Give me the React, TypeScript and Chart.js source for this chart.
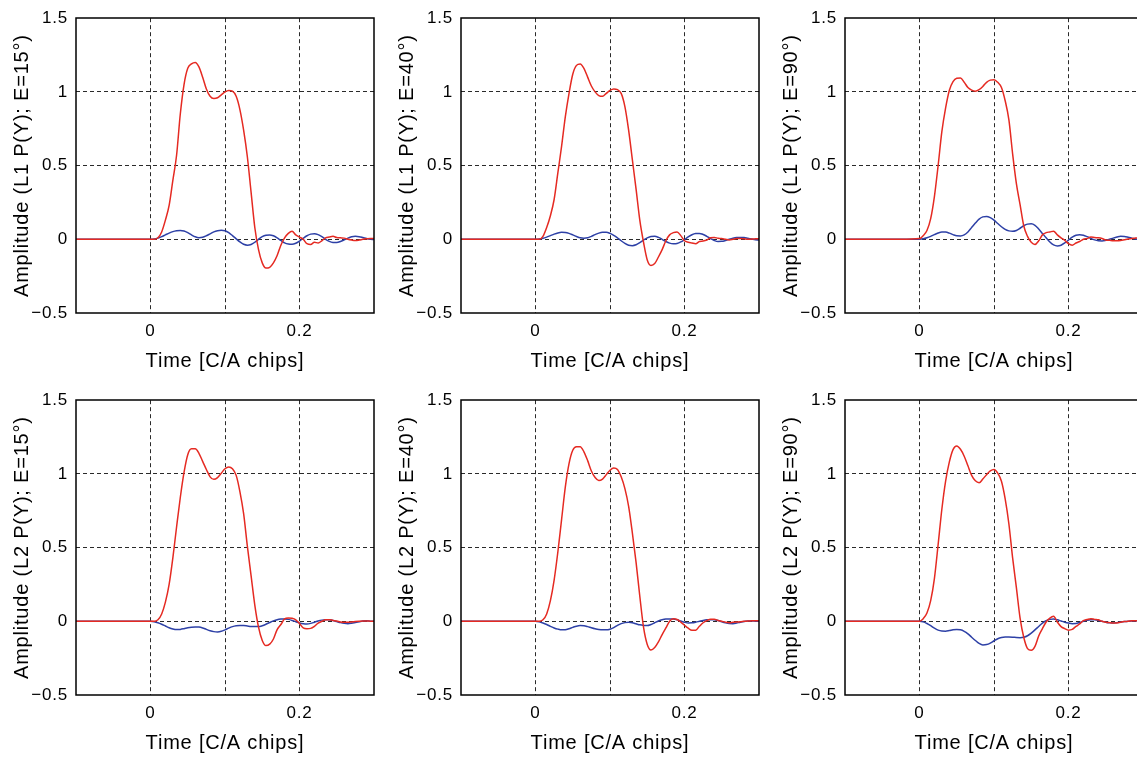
import React, { useEffect, useRef } from 'react';
import { Chart, registerables } from 'chart.js';

Chart.register(...registerables);

// ---- data ----
const TIME = [
  -0.1, -0.075, -0.05, -0.025,
  0, 0.005, 0.01, 0.015, 0.02, 0.025, 0.03, 0.035, 0.04, 0.045,
  0.05, 0.055, 0.06, 0.065, 0.07, 0.075, 0.08, 0.085, 0.09, 0.095,
  0.1, 0.105, 0.11, 0.115, 0.12, 0.125, 0.13, 0.135, 0.14, 0.145,
  0.15, 0.155, 0.16, 0.165, 0.17, 0.175, 0.18, 0.185, 0.19, 0.195,
  0.2, 0.205, 0.21, 0.215, 0.22, 0.225, 0.23, 0.235, 0.24, 0.245,
  0.25, 0.255, 0.26, 0.265, 0.27, 0.275, 0.28, 0.285, 0.29, 0.295, 0.3,
];

const X_TICK_LABELS = ['0', '0.2'];
const Y_TICK_LABELS = ['−0.5', '0', '0.5', '1', '1.5'];
const X_TITLE = 'Time [C/A chips]';
const Y_TITLES = [
  'Amplitude (L1 P(Y); E=15°)',
  'Amplitude (L1 P(Y); E=40°)',
  'Amplitude (L1 P(Y); E=90°)',
  'Amplitude (L2 P(Y); E=15°)',
  'Amplitude (L2 P(Y); E=40°)',
  'Amplitude (L2 P(Y); E=90°)',
];

const L1_E15_RED = [0, 0, 0, 0,
  0, 0.0, 0.01, 0.05, 0.13, 0.23, 0.40, 0.57, 0.85, 1.05, 1.16,
  1.19, 1.20, 1.17, 1.10, 1.02, 0.97, 0.955, 0.96, 0.98, 1.0,
  1.01, 1.005, 0.97, 0.88, 0.74, 0.56, 0.32, 0.08, -0.07, -0.16,
  -0.195, -0.19, -0.16, -0.11, -0.04, 0.01, 0.04, 0.055, 0.03, 0.015,
  0.0, -0.03, -0.035, -0.02, -0.025, -0.01, 0.01, 0.015, 0.02, 0.012,
  0.01, 0.008, 0.0, -0.005, -0.008, -0.005, 0.0, 0.003, 0.005, 0.005];
const L1_E15_BLUE = [0, 0, 0, 0,
  0, 0.002, 0.008, 0.018, 0.03, 0.042, 0.052, 0.058, 0.06, 0.056, 0.045,
  0.03, 0.017, 0.011, 0.014, 0.024, 0.037, 0.05, 0.058, 0.061, 0.058,
  0.045, 0.025, 0.003, -0.018, -0.034, -0.04, -0.035, -0.02, 0.0, 0.018,
  0.028, 0.03, 0.024, 0.01, -0.008, -0.024, -0.032, -0.034, -0.027, -0.012,
  0.007, 0.024, 0.035, 0.038, 0.032, 0.018, 0.0, -0.014, -0.021, -0.022,
  -0.015, -0.004, 0.008, 0.017, 0.02, 0.018, 0.012, 0.005, 0.0, -0.002];

const L1_E40_RED = [0, 0, 0, 0,
  0, 0.0, 0.02, 0.08, 0.16, 0.27, 0.45, 0.63, 0.83, 0.99, 1.12,
  1.18, 1.19, 1.16, 1.10, 1.04, 1.0, 0.975, 0.97, 0.99, 1.01,
  1.02, 1.015, 0.99, 0.90, 0.74, 0.54, 0.34, 0.13, -0.02, -0.14,
  -0.177, -0.165, -0.12, -0.07, -0.01, 0.03, 0.045, 0.05, 0.025, -0.01,
  -0.02, -0.025, -0.03, -0.015, -0.012, -0.005, 0.01, 0.013, 0.007, 0.005,
  0.0, -0.004, 0.0, 0.005, 0.006, 0.003, 0.0, 0.002, 0.003, 0.004];
const L1_E40_BLUE = [0, 0, 0, 0,
  0, 0.002, 0.007, 0.015, 0.025, 0.035, 0.043, 0.047, 0.046, 0.04, 0.03,
  0.019, 0.01, 0.007, 0.01, 0.02, 0.032, 0.042, 0.047, 0.047, 0.04,
  0.027, 0.01, -0.01, -0.028, -0.04, -0.043, -0.037, -0.022, -0.005, 0.01,
  0.019, 0.02, 0.013, 0.0, -0.015, -0.026, -0.03, -0.028, -0.018, -0.002,
  0.016, 0.031, 0.039, 0.04, 0.033, 0.02, 0.005, -0.008, -0.015, -0.014,
  -0.008, 0.0, 0.007, 0.012, 0.013, 0.012, 0.007, 0.002, -0.003, -0.005];

const L1_E90_RED = [0, 0, 0, 0,
  0.005, 0.025, 0.06, 0.14, 0.29, 0.50, 0.73, 0.89, 1.01, 1.07, 1.093,
  1.095, 1.065, 1.03, 1.012, 1.005, 1.015, 1.037, 1.065, 1.08, 1.083,
  1.065, 1.03, 0.94, 0.81, 0.58, 0.38, 0.235, 0.09, 0.02, -0.02,
  -0.035, -0.01, 0.03, 0.045, 0.05, 0.055, 0.03, 0.01, -0.007, -0.03,
  -0.04, -0.025, -0.015, 0.0, 0.005, 0.015, 0.012, 0.01, 0.005, -0.005,
  -0.007, -0.01, -0.01, -0.008, -0.003, 0.002, 0.006, 0.008, 0.01, 0.01];
const L1_E90_BLUE = [0, 0, 0, 0,
  0.0, 0.003, 0.01, 0.02, 0.032, 0.043, 0.05, 0.049, 0.042, 0.032, 0.024,
  0.023, 0.03, 0.05, 0.08, 0.11, 0.137, 0.152, 0.155, 0.147, 0.13,
  0.107, 0.085, 0.067, 0.057, 0.054, 0.06, 0.075, 0.092, 0.103, 0.105,
  0.095, 0.07, 0.04, 0.01, -0.018, -0.038, -0.045, -0.04, -0.025, -0.005,
  0.014, 0.027, 0.031, 0.028, 0.018, 0.006, -0.004, -0.01, -0.011, -0.007,
  0.0, 0.008, 0.015, 0.02, 0.019, 0.014, 0.008, 0.002, -0.002, -0.003];

const L2_E15_RED = [0, 0, 0, 0,
  0, 0.0, 0.01, 0.05, 0.13, 0.25, 0.43, 0.64, 0.84, 1.01, 1.13,
  1.17, 1.17, 1.14, 1.085, 1.03, 0.98, 0.963, 0.975, 1.005, 1.035,
  1.047, 1.035, 0.99, 0.88, 0.73, 0.51, 0.31, 0.11, -0.04, -0.13,
  -0.165, -0.155, -0.12, -0.056, -0.022, 0.016, 0.022, 0.02, 0.01, -0.015,
  -0.045, -0.05, -0.048, -0.034, -0.012, 0.0, 0.01, 0.011, 0.006, 0.002,
  -0.004, -0.006, -0.006, -0.004, -0.002, 0.0, 0.002, 0.002, 0.001, 0.0];
const L2_E15_BLUE = [0, 0, 0, 0,
  0, -0.003, -0.01, -0.02, -0.032, -0.044, -0.052, -0.056, -0.055, -0.05, -0.044,
  -0.04, -0.038, -0.039, -0.045, -0.055, -0.064, -0.07, -0.072, -0.068, -0.058,
  -0.046, -0.036, -0.03, -0.028, -0.029, -0.032, -0.035, -0.036, -0.036, -0.03,
  -0.02, -0.008, 0.003, 0.011, 0.015, 0.016, 0.013, 0.006, -0.003, -0.011,
  -0.016, -0.018, -0.014, -0.006, 0.002, 0.008, 0.011, 0.01, 0.005, -0.002,
  -0.009, -0.014, -0.016, -0.013, -0.008, -0.003, 0.002, 0.003, 0.001, 0.0];

const L2_E40_RED = [0, 0, 0, 0,
  0, 0.0, 0.01, 0.05, 0.14, 0.28, 0.47, 0.69, 0.91, 1.07, 1.16,
  1.185, 1.185, 1.15, 1.09, 1.02, 0.975, 0.955, 0.965, 0.995, 1.025,
  1.04, 1.03, 0.98, 0.9, 0.78, 0.6, 0.4, 0.17, -0.04, -0.157,
  -0.195, -0.178, -0.14, -0.09, -0.045, 0.0, 0.017, 0.012, -0.005, -0.027,
  -0.047, -0.06, -0.06, -0.034, -0.01, 0.005, 0.014, 0.014, 0.006, 0.0,
  -0.006, -0.009, -0.007, -0.005, -0.003, 0.0, 0.002, 0.003, 0.004, 0.004];
const L2_E40_BLUE = [0, 0, 0, 0,
  0, -0.004, -0.012, -0.022, -0.034, -0.045, -0.053, -0.058, -0.057, -0.05, -0.041,
  -0.033, -0.029, -0.03, -0.036, -0.044, -0.051, -0.056, -0.058, -0.058, -0.054,
  -0.043, -0.028, -0.016, -0.009, -0.007, -0.01, -0.017, -0.024, -0.028, -0.029,
  -0.022, -0.01, 0.002, 0.01, 0.015, 0.016, 0.016, 0.01, 0.002, -0.006,
  -0.011, -0.01, -0.006, 0.0, 0.006, 0.01, 0.011, 0.011, 0.005, -0.003,
  -0.01, -0.015, -0.016, -0.012, -0.006, -0.002, 0.002, 0.002, 0.001, 0.0];

const L2_E90_RED = [0, 0, 0, 0,
  0.0, 0.018, 0.056, 0.14, 0.29, 0.52, 0.76, 0.95, 1.08, 1.165, 1.19,
  1.167, 1.12, 1.055, 0.99, 0.953, 0.94, 0.965, 0.995, 1.02, 1.03,
  1.005, 0.95, 0.83, 0.66, 0.43, 0.23, 0.022, -0.11, -0.185, -0.197,
  -0.17, -0.1, -0.05, -0.005, 0.022, 0.034, -0.005, -0.036, -0.05, -0.06,
  -0.055, -0.035, -0.018, 0.004, 0.012, 0.018, 0.013, 0.01, 0.0, -0.006,
  -0.009, -0.011, -0.011, -0.006, -0.002, 0.0, 0.003, 0.004, 0.004, 0.004];
const L2_E90_BLUE = [0, 0, 0, 0,
  0, -0.004, -0.015, -0.03, -0.047, -0.06, -0.066, -0.067, -0.063, -0.058, -0.056,
  -0.058, -0.068, -0.085, -0.108, -0.13, -0.15, -0.16, -0.158, -0.148, -0.132,
  -0.118, -0.11, -0.107, -0.107, -0.108, -0.11, -0.111, -0.108, -0.098, -0.08,
  -0.058, -0.035, -0.012, 0.004, 0.013, 0.015, 0.01, 0.002, -0.006, -0.012,
  -0.016, -0.015, -0.008, 0.0, 0.007, 0.011, 0.01, 0.006, 0.0, -0.006,
  -0.01, -0.011, -0.009, -0.005, -0.002, 0.0, 0.002, 0.003, 0.002, 0.001];

const RED_SERIES = [L1_E15_RED, L1_E40_RED, L1_E90_RED, L2_E15_RED, L2_E40_RED, L2_E90_RED];
const BLUE_SERIES = [L1_E15_BLUE, L1_E40_BLUE, L1_E90_BLUE, L2_E15_BLUE, L2_E40_BLUE, L2_E90_BLUE];

// ---- layout / style ----
const FONT = '"Liberation Sans", Arial, Helvetica, sans-serif';
const RED = '#e52a22';
const BLUE = '#2d40a6';
const PLOT_LEFTS = [76, 461, 845];
const PLOT_TOPS = [15, 397];
const PLOT_W = 298;
const PLOT_H = 298;
const AXIS_W = 76;
const AXIS_H = 67;
const PAD_TOP = 15;
const PAD_RIGHT = 8;
const LETTER_SPACING = '0.8px';

const toPoints = (vals: number[]) =>
  TIME.slice(0, vals.length).map((t, i) => ({ x: t, y: vals[i] }));

const spacingPlugin = {
  id: 'letterSpacing',
  beforeLayout(chart: any) { chart.ctx.letterSpacing = LETTER_SPACING; },
  beforeDraw(chart: any) { chart.ctx.letterSpacing = LETTER_SPACING; },
};

const framePlugin = {
  id: 'frame',
  afterDraw(chart: any) {
    const { ctx, chartArea } = chart;
    const l = Math.round(chartArea.left);
    const t = Math.round(chartArea.top);
    const r = Math.round(chartArea.right);
    const b = Math.round(chartArea.bottom);
    ctx.save();
    ctx.setLineDash([]);
    ctx.strokeStyle = '#000';
    ctx.lineWidth = 1.5;
    ctx.strokeRect(l, t, r - l, b - t);
    ctx.restore();
  },
};

function near(a: number, b: number) { return Math.abs(a - b) < 1e-6; }

function gridColor(min: number, max: number) {
  return (c: any) => {
    const v = c.tick ? c.tick.value : NaN;
    if (near(v, min) || near(v, max)) return 'rgba(0,0,0,0)';
    return '#2a2a2a';
  };
}

function Panel({ index }: { index: number }) {
  const ref = useRef<HTMLCanvasElement | null>(null);
  const col = index % 3;
  const row = Math.floor(index / 3);
  const cw = AXIS_W + PLOT_W + PAD_RIGHT;
  const ch = PAD_TOP + PLOT_H + AXIS_H;
  const left = PLOT_LEFTS[col] - AXIS_W;
  const top = PLOT_TOPS[row] - PAD_TOP;

  useEffect(() => {
    if (!ref.current) return;
    const chart = new Chart(ref.current, {
      type: 'line',
      data: {
        datasets: [
          {
            data: toPoints(RED_SERIES[index]),
            borderColor: RED,
            borderWidth: 1.5,
            pointRadius: 0,
            cubicInterpolationMode: 'monotone',
            fill: false,
          },
          {
            data: toPoints(BLUE_SERIES[index]),
            borderColor: BLUE,
            borderWidth: 1.5,
            pointRadius: 0,
            cubicInterpolationMode: 'monotone',
            fill: false,
          },
        ],
      },
      options: {
        animation: false,
        responsive: false,
        devicePixelRatio: 1,
        layout: { padding: { top: PAD_TOP, right: PAD_RIGHT, left: 0, bottom: 0 } },
        plugins: { legend: { display: false }, tooltip: { enabled: false } },
        events: [],
        scales: {
          x: {
            type: 'linear',
            min: -0.1,
            max: 0.3,
            ticks: {
              stepSize: 0.1,
              autoSkip: false,
              maxRotation: 0,
              padding: 8,
              color: '#000',
              font: { family: FONT, size: 17 },
              callback: (v: any) => {
                const n = Number(v);
                if (near(n, 0)) return X_TICK_LABELS[0];
                if (near(n, 0.2)) return X_TICK_LABELS[1];
                return '';
              },
            },
            grid: { color: gridColor(-0.1, 0.3), lineWidth: 1, drawTicks: false },
            border: { display: false, dash: [4, 3] },
            title: {
              display: true,
              text: X_TITLE,
              color: '#000',
              font: { family: FONT, size: 20 },
              padding: { top: 0, bottom: 7 },
            },
            afterFit: (s: any) => { s.height = AXIS_H; },
          },
          y: {
            type: 'linear',
            min: -0.5,
            max: 1.5,
            ticks: {
              stepSize: 0.5,
              autoSkip: false,
              padding: 8,
              color: '#000',
              font: { family: FONT, size: 17 },
              callback: (v: any) => {
                const n = Number(v);
                const vals = [-0.5, 0, 0.5, 1, 1.5];
                const k = vals.findIndex((x) => near(x, n));
                return k >= 0 ? Y_TICK_LABELS[k] : '';
              },
            },
            grid: { color: gridColor(-0.5, 1.5), lineWidth: 1, drawTicks: false },
            border: { display: false, dash: [4, 3] },
            title: {
              display: true,
              text: Y_TITLES[index],
              color: '#000',
              font: { family: FONT, size: 20 },
              padding: { top: 10, bottom: 0 },
            },
            afterFit: (s: any) => { s.width = AXIS_W; },
          },
        },
      } as any,
      plugins: [spacingPlugin, framePlugin],
    });
    return () => chart.destroy();
  }, [index]);

  return (
    <canvas
      ref={ref}
      width={cw}
      height={ch}
      style={{ position: 'absolute', left, top, width: cw, height: ch }}
    />
  );
}

export default function App() {
  return (
    <div
      style={{
        position: 'fixed',
        left: 0,
        top: 0,
        width: 1137,
        height: 758,
        overflow: 'hidden',
        background: '#fff',
      }}
    >
      {[0, 1, 2, 3, 4, 5].map((i) => (
        <Panel key={i} index={i} />
      ))}
    </div>
  );
}
